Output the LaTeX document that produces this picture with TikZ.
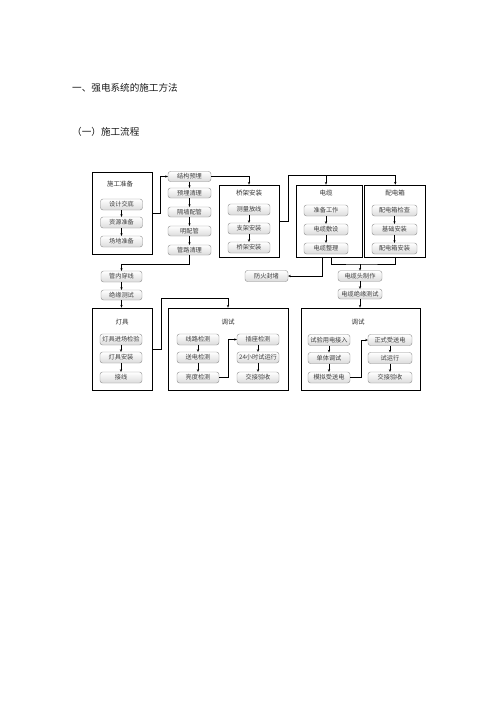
\documentclass[tikz,border=0pt]{standalone}
\usepackage{fontspec}
\newfontfamily\cjk{Noto Sans CJK SC}
\usetikzlibrary{arrows.meta,calc}
\begin{document}
\begin{tikzpicture}[x=1pt,y=-1pt,
 gb/.style={draw=black!45, line width=0.4pt, rounded corners=2.5pt, top color=white, bottom color=black!14, minimum width=42pt, minimum height=11pt, inner sep=0pt, text=black!75, font=\cjk\fontsize{6.2}{6.2}\selectfont},
 big/.style={draw=black, line width=0.9pt, inner sep=0pt},
 ttl/.style={font=\cjk\fontsize{6.5}{6.5}\selectfont, text=black!80, inner sep=0pt},
 head/.style={anchor=west, font=\cjk\fontsize{9.6}{9.6}\selectfont, text=black!90, inner sep=0pt},
 arr/.style={-{Stealth[length=2.6pt,width=2.4pt]}, line width=0.7pt},
 ln/.style={line width=0.7pt}]
\useasboundingbox (0,0) rectangle (496,702);

% headings
\node[head] (h1) at (72,88) {一、强电系统的施工方法};
\node[head] (h2) at (72,132) {（一）施工流程};

% big boxes
\node[big, minimum width=60pt, minimum height=82pt] (sgzb) at (122,213) {};
\node[big, minimum width=60pt, minimum height=72pt] (qjaz) at (249,221) {};
\node[big, minimum width=66pt, minimum height=72pt] (dl) at (329,221) {};
\node[big, minimum width=61pt, minimum height=72pt] (pdx) at (395.3,221) {};
\node[big, minimum width=60pt, minimum height=82pt] (dj) at (122,349) {};
\node[big, minimum width=120pt, minimum height=82pt] (ts1) at (228,349) {};
\node[big, minimum width=119pt, minimum height=82pt] (ts2) at (360.5,349) {};

% titles
\node[ttl] (t1) at (120,184) {施工准备};
\node[ttl] (t2) at (249,193) {桥架安装};
\node[ttl] (t3) at (326,193) {电缆};
\node[ttl] (t4) at (395,193) {配电箱};
\node[ttl] (t5) at (122,322) {灯具};
\node[ttl] (t6) at (228,322) {调试};
\node[ttl] (t7) at (358,322) {调试};

% 施工准备
\node[gb] (a1) at (121.5,204.5) {设计交底};
\node[gb] (a2) at (121.5,222.5) {资源准备};
\node[gb] (a3) at (121.5,241.5) {场地准备};
\draw[arr] (a1) -- (a2);
\draw[arr] (a2) -- (a3);

% 结构预埋 column
\node[gb, minimum width=43pt, minimum height=10pt] (b1) at (189.5,176.5) {结构预埋};
\node[gb, minimum width=43pt, minimum height=10pt] (b2) at (189.5,193) {预埋清理};
\node[gb, minimum width=43pt, minimum height=10pt] (b3) at (189.5,212) {隔墙配管};
\node[gb, minimum width=43pt, minimum height=10pt] (b4) at (189.5,231) {明配管};
\node[gb, minimum width=43pt, minimum height=10pt] (b5) at (189.5,250) {管路清理};
\draw[arr] (b1) -- (b2);
\draw[arr] (b2) -- (b3);
\draw[arr] (b3) -- (b4);
\draw[arr] (b4) -- (b5);
\draw[arr] (sgzb.east) -- ++(8,0) |- (b1.west);

% 桥架安装
\node[gb] (c1) at (249,209.5) {测量放线};
\node[gb] (c2) at (249,228.5) {支架安装};
\node[gb] (c3) at (249,247.5) {桥架安装};
\draw[arr] (c1) -- (c2);
\draw[arr] (c2) -- (c3);
\draw[arr] (b1.east) -| (qjaz.north);

% 电缆
\node[gb, minimum width=44pt] (d1) at (326,210.5) {准备工作};
\node[gb, minimum width=44pt] (d2) at (326,229.5) {电缆敷设};
\node[gb, minimum width=44pt] (d3) at (326,248.5) {电缆整理};
\draw[arr] (d1) -- (d2);
\draw[arr] (d2) -- (d3);

% 配电箱
\node[gb, minimum width=45pt] (e1) at (394.5,210.5) {配电箱检查};
\node[gb, minimum width=45pt] (e2) at (394.5,229.5) {基础安装};
\node[gb, minimum width=45pt] (e3) at (394.5,248.5) {配电箱安装};
\draw[arr] (e1) -- (e2);
\draw[arr] (e2) -- (e3);

% top distribution line
\coordinate (topL) at (288,175);
\coordinate (j1) at (326,175);
\coordinate (j2) at (395.3,175);
\draw[ln] (qjaz.east) -| (topL) -- (j2);
\draw[arr] (j1) -- (j1 |- dl.north);
\draw[arr] (j2) -- (pdx.north);

% 防火封堵
\node[gb, minimum width=43pt] (f1) at (266.5,276) {防火封堵};
\draw[arr] ([xshift=-7pt]dl.south) |- (f1.east);

% 电缆头制作
\coordinate (br) at (360,264);
\node[gb, minimum width=44pt, minimum height=10.5pt] (g1) at (360,276) {电缆头制作};
\node[gb, minimum width=44pt, minimum height=10pt] (g2) at (360,294) {电缆绝缘测试};
\draw[ln] ([xshift=2pt]dl.south) |- (br) -| (pdx.south);
\draw[arr] (br) -- (g1.north);
\draw[arr] (g1) -- (g2);
\draw[arr] (g2.south) -- (g2.south |- ts2.north);

% 管内穿线
\node[gb, minimum width=41pt] (h3) at (121.5,276.5) {管内穿线};
\node[gb, minimum width=41pt, minimum height=10pt] (h4) at (121.5,295) {绝缘测试};
\draw[arr] (b5.south) -- ++(0,9) -| (h3.north);
\draw[arr] (h3) -- (h4);
\draw[arr] (h4.south) -- (h4.south |- dj.north);

% 灯具
\node[gb] (k1) at (121,339.5) {灯具进场检验};
\node[gb] (k2) at (121,357.5) {灯具安装};
\node[gb] (k3) at (121,377.5) {接线};
\draw[arr] (k1) -- (k2);
\draw[arr] (k2) -- (k3);

% 调试 middle
\coordinate (kk) at (161,298);
\draw[arr] (dj.east) -| (kk) -| (ts1.north);
\node[gb] (m1) at (198,339.5) {线路检测};
\node[gb] (m2) at (198,357.5) {送电检测};
\node[gb] (m3) at (198,377.5) {亮度检测};
\node[gb] (m4) at (258,339.5) {插座检测};
\node[gb] (m5) at (258,357.5) {24小时试运行};
\node[gb] (m6) at (258,377.5) {交接验收};
\draw[arr] (m1) -- (m2);
\draw[arr] (m2) -- (m3);
\draw[arr] (m4) -- (m5);
\draw[arr] (m5) -- (m6);
\draw[arr] (m3.east) -- ++(9,0) |- (m4.west);

% 调试 right
\node[gb] (n1) at (329,340) {试验用电接入};
\node[gb] (n2) at (329,358) {单体调试};
\node[gb] (n3) at (329,377.5) {模拟受送电};
\node[gb, minimum width=44pt] (n4) at (390,340) {正式受送电};
\node[gb, minimum width=44pt] (n5) at (390,358) {试运行};
\node[gb, minimum width=44pt] (n6) at (390,377.5) {交接验收};
\draw[arr] (n1) -- (n2);
\draw[arr] (n2) -- (n3);
\draw[arr] (n4) -- (n5);
\draw[arr] (n5) -- (n6);
\draw[arr] (n3.east) -- ++(11,0) |- (n4.west);
\end{tikzpicture}
\end{document}
